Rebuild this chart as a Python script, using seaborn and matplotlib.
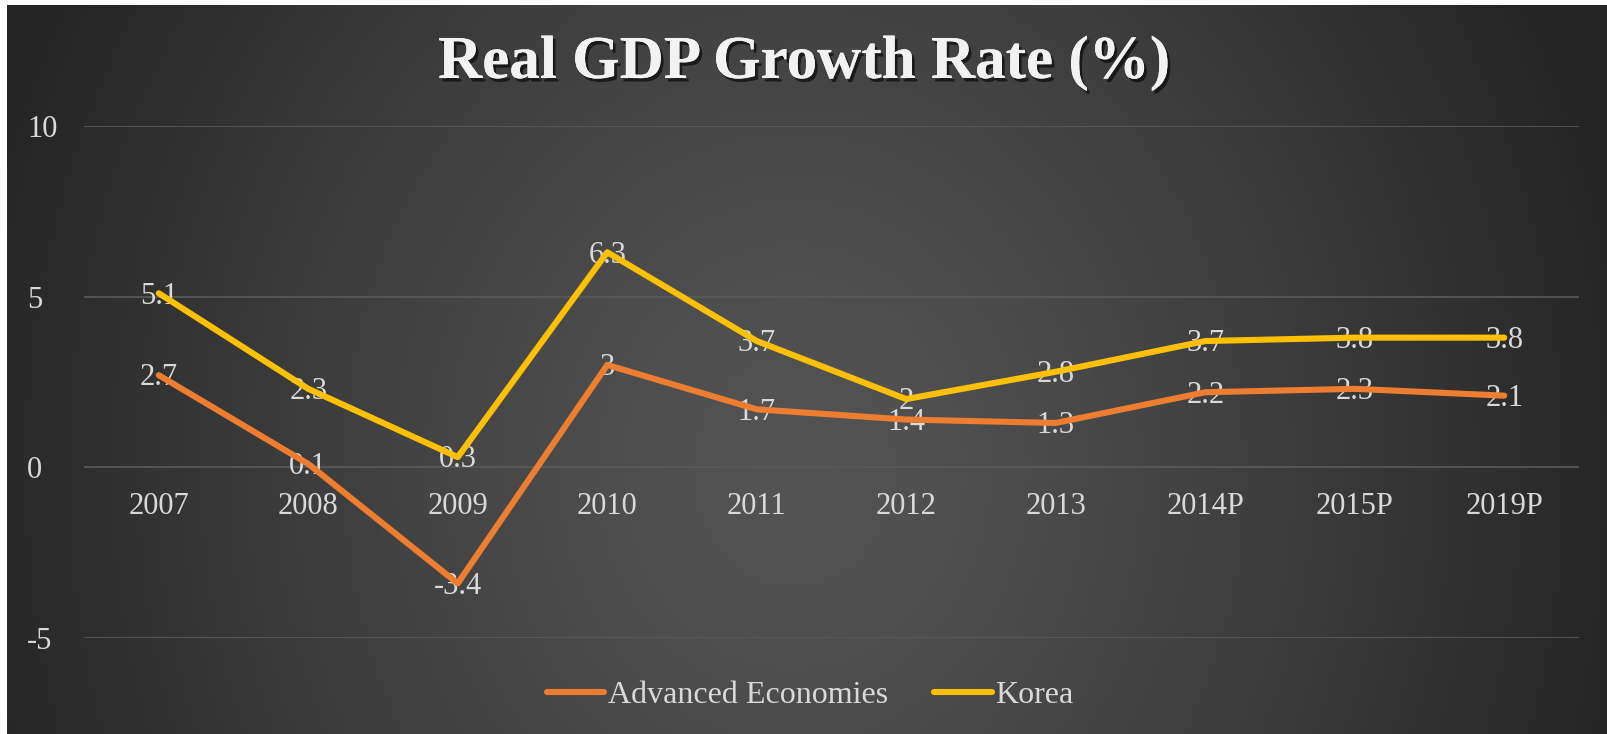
import numpy as np
import pandas as pd
import matplotlib
matplotlib.use("Agg")
import matplotlib.pyplot as plt
import matplotlib.patheffects as pe
import seaborn as sns

# data
years = ["2007", "2008", "2009", "2010", "2011", "2012", "2013", "2014P", "2015P", "2019P"]
advanced = [2.7, 0.1, -3.4, 3.0, 1.7, 1.4, 1.3, 2.2, 2.3, 2.1]
korea = [5.1, 2.3, 0.3, 6.3, 3.7, 2.0, 2.8, 3.7, 3.8, 3.8]
series_names = ["Advanced Economies", "Korea"]
series_colors = ["#ED7D31", "#FFC000"]
y_ticks = [-5, 0, 5, 10]

df = pd.DataFrame({
    "year": years * 2,
    "value": advanced + korea,
    "series": [series_names[0]] * len(years) + [series_names[1]] * len(years),
})

sns.set_theme(style="white")
plt.rcParams["font.family"] = ["Liberation Serif", "DejaVu Serif"]

W, H = 1607, 734
fig = plt.figure(figsize=(W / 100, H / 100), dpi=100, facecolor="white")

# dark radial background
bg = fig.add_axes([7 / W, 0, 1 - 7 / W, 1 - 5 / H])
xx, yy = np.meshgrid(np.linspace(0, W, 400), np.linspace(0, H, 200))
d = np.sqrt(((xx - 790) / 860) ** 2 + ((yy - 470) / 1000) ** 2)
shade = 84 - 48 * np.clip(d, 0, 1) ** 1.3
img = np.dstack([shade, shade, shade]) / 255.0
bg.imshow(img, aspect="auto", extent=[0, 1, 0, 1], origin="upper")
bg.set_axis_off()

ax = fig.add_axes([84 / W, 1 - 638 / H, (1579 - 84) / W, (638 - 126) / H])
ax.patch.set_alpha(0)

sns.lineplot(data=df, x="year", y="value", hue="series", hue_order=series_names,
             palette=series_colors, linewidth=4.4, sort=False, ax=ax,
             solid_capstyle="round", zorder=3)

text_col = "#D9D9D9"
for vals in (advanced, korea):
    for i, v in enumerate(vals):
        ax.annotate(f"{v:g}", (i, v), xytext=(0, -2), textcoords="offset points",
                    ha="center", va="center", fontsize=22, color=text_col, zorder=2)

ax.set_xlim(-0.5, len(years) - 0.5)
ax.set_ylim(-5, 10)
ax.set_yticks(y_ticks)
ax.set_yticklabels([str(t) for t in y_ticks])
ax.grid(axis="y", color="#5A5A5A", linewidth=1.2)
ax.set_axisbelow(True)
for s in ["top", "right", "left"]:
    ax.spines[s].set_visible(False)
ax.spines["bottom"].set_position(("data", 0))
ax.spines["bottom"].set_visible(False)
ax.tick_params(axis="x", length=0, pad=18, labelsize=22, labelcolor=text_col)
ax.tick_params(axis="y", length=0, pad=41, labelsize=22, labelcolor=text_col)
for lab in ax.get_yticklabels():
    lab.set_horizontalalignment("left")
ax.set_xlabel("")
ax.set_ylabel("")

handles, labels = ax.get_legend_handles_labels()
ax.legend(handles, labels, loc="center", bbox_to_anchor=(810 / W, 1 - 695 / H),
          bbox_transform=fig.transFigure, ncol=2, frameon=False, fontsize=23,
          labelcolor=text_col, handlelength=1.8, handletextpad=0.1,
          columnspacing=1.45)
for line in ax.get_legend().get_lines():
    line.set_solid_capstyle("round")

fig.text(804 / W, 1 - 78 / H, "Real GDP Growth Rate (%)", ha="center", va="baseline",
         fontsize=44, fontweight="bold", color="#F2F2F2",
         path_effects=[pe.withSimplePatchShadow(offset=(2, -2.5), shadow_rgbFace="black", alpha=0.6),
                       pe.Normal()])

fig.savefig("out.png", dpi=100, facecolor=fig.get_facecolor())
